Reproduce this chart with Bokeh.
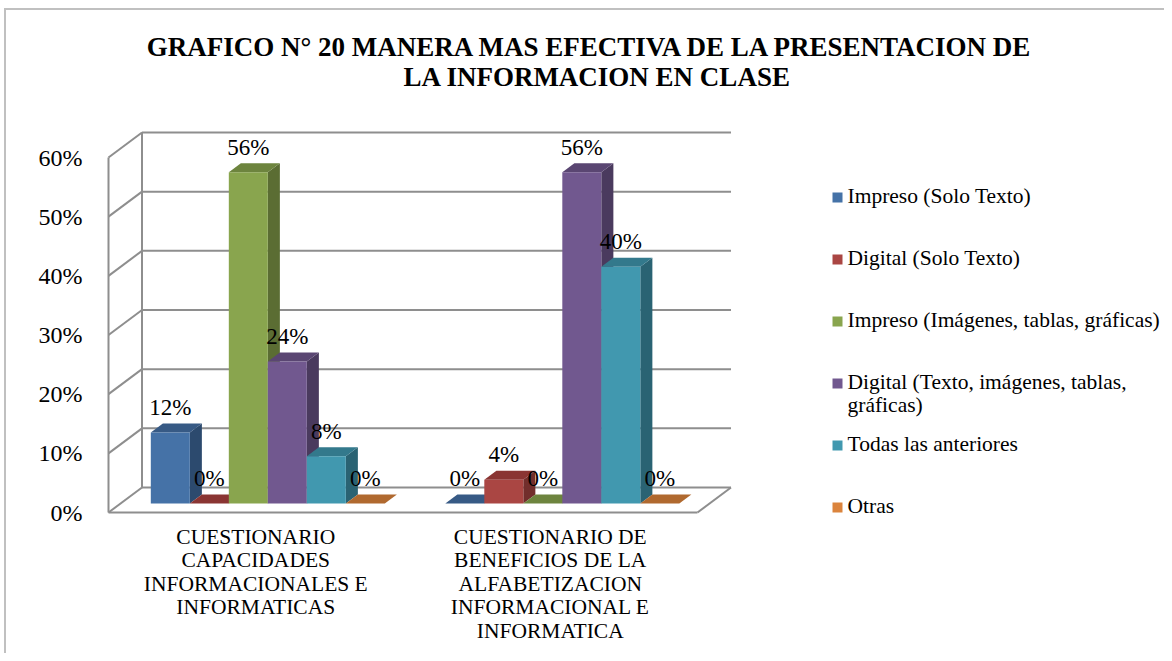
from bokeh.plotting import figure
from bokeh.models import Range1d, LinearAxis, FixedTicker
from bokeh.core.properties import value
from bokeh.embed import file_html
from bokeh.resources import INLINE

# ---------------- data ----------------
title_text = "GRAFICO N° 20  MANERA MAS EFECTIVA DE LA  PRESENTACION DE\nLA INFORMACION EN CLASE"
categories = [
    "CUESTIONARIO\nCAPACIDADES\nINFORMACIONALES E\nINFORMATICAS",
    "CUESTIONARIO DE\nBENEFICIOS DE LA\nALFABETIZACION\nINFORMACIONAL E\nINFORMATICA",
]
series_names = [
    "Impreso (Solo Texto)",
    "Digital (Solo Texto)",
    "Impreso (Imágenes, tablas, gráficas)",
    "Digital (Texto, imágenes, tablas,\ngráficas)",
    "Todas las anteriores",
    "Otras",
]
impreso_solo_texto = [12, 0]
digital_solo_texto = [0, 4]
impreso_imagenes = [56, 0]
digital_texto_imagenes = [24, 56]
todas_anteriores = [8, 40]
otras = [0, 0]
y_ticks = [0, 10, 20, 30, 40, 50, 60]
y_tick_labels = ["0%", "10%", "20%", "30%", "40%", "50%", "60%"]

series_values = [impreso_solo_texto, digital_solo_texto, impreso_imagenes,
                 digital_texto_imagenes, todas_anteriores, otras]

# ---------------- styles ----------------
front_colors = ["#4572A7", "#AA4643", "#89A54E", "#71588F", "#4198AF", "#DB843D"]
side_colors = ["#2C4A6E", "#722E2C", "#5B6D33", "#4A3A5E", "#2A6373", "#955A29"]
top_colors = ["#375A85", "#8A3533", "#6D843E", "#5A4672", "#33798C", "#B0692F"]
grid_color = "#8E8E8E"
FONT = "Liberation Serif"

OX, OY = 6, 10          # where the canvas starts on the page (margin + border)
W, H = 1160, 645
FRAME_L = 100           # page x of plot frame left edge
LEFT = FRAME_L - OX
X0PX, Y0PX = 108.0, 512.0   # page position of front-left floor corner
PXX = 294.5             # px per category unit
PXY = 355.0 / 60.0      # px per percent unit
DX = 33.5 / PXX         # depth offset (x)
DY = 25.0 / PXY         # depth offset (y)
F1, F2 = 0.36, 0.72     # bar front/back depth fractions
BW = 39.0 / PXX         # bar width


def px_x(px):
    return (px - X0PX) / PXX


def px_y(py):
    return (Y0PX - py) / PXY


ncat = len(categories)
nser = len(series_values)
ymax = max(y_ticks)

p = figure(width=W, height=H,
           x_range=Range1d(px_x(FRAME_L), px_x(OX + W)),
           y_range=Range1d(px_y(OY + H), px_y(OY)),
           output_backend="svg", toolbar_location=None,
           x_axis_type=None, y_axis_type=None,
           min_border_left=LEFT, min_border_right=0,
           min_border_top=0, min_border_bottom=0)
p.outline_line_color = None
p.background_fill_color = "white"
p.border_fill_color = "white"
p.styles = {"margin-left": "4px", "margin-top": "8px",
            "border-left": "2px solid #C0C0C0", "border-top": "2px solid #C0C0C0"}

yaxis = LinearAxis(ticker=FixedTicker(ticks=y_ticks),
                   major_label_overrides={t: l for t, l in zip(y_ticks, y_tick_labels)},
                   axis_line_color=None, major_tick_line_color=None,
                   minor_tick_line_color=None, major_tick_out=0, major_tick_in=0,
                   major_label_standoff=18,
                   major_label_text_font=FONT, major_label_text_font_size="24px",
                   major_label_text_color="black")
p.add_layout(yaxis, "left")

# ---------------- 3D frame ----------------
p.segment(x0=[DX] * len(y_ticks), y0=[t + DY for t in y_ticks],
          x1=[ncat + DX] * len(y_ticks), y1=[t + DY for t in y_ticks],
          line_color=grid_color, line_width=2)
p.segment(x0=[0] * len(y_ticks), y0=y_ticks,
          x1=[DX] * len(y_ticks), y1=[t + DY for t in y_ticks],
          line_color=grid_color, line_width=2)
p.segment(x0=[0, DX, 0, ncat], y0=[0, DY, 0, 0],
          x1=[0, DX, ncat, ncat + DX], y1=[ymax, ymax + DY, 0, DY],
          line_color=grid_color, line_width=2)

# ---------------- bars ----------------
lab_x, lab_y, lab_t = [], [], []
for s, vals in enumerate(series_values):
    fx, fy, sx, sy, tx, ty = [], [], [], [], [], []
    for i, v in enumerate(vals):
        x0 = i + 0.5 - nser * BW / 2 + s * BW
        x1 = x0 + BW
        a1x, a1y = F1 * DX, F1 * DY
        a2x, a2y = F2 * DX, F2 * DY
        fx.append([x0 + a1x, x1 + a1x, x1 + a1x, x0 + a1x])
        fy.append([a1y, a1y, v + a1y, v + a1y])
        sx.append([x1 + a1x, x1 + a2x, x1 + a2x, x1 + a1x])
        sy.append([a1y, a2y, v + a2y, v + a1y])
        tx.append([x0 + a1x, x1 + a1x, x1 + a2x, x0 + a2x])
        ty.append([v + a1y, v + a1y, v + a2y, v + a2y])
        lab_x.append(x0 + BW / 2 + a1x)
        lab_y.append(v + a2y + 16.0 / PXY)
        lab_t.append(f"{v}%")
    p.patches(xs=sx, ys=sy, fill_color=side_colors[s], line_color=None)
    p.patches(xs=tx, ys=ty, fill_color=top_colors[s], line_color=None)
    p.patches(xs=fx, ys=fy, fill_color=front_colors[s], line_color=None)

# data labels
p.text(x=lab_x, y=lab_y, text=lab_t, text_align="center", text_baseline="alphabetic",
       text_font=value(FONT), text_font_size="23px", text_color="black")

# category labels
p.text(x=[i + 0.5 for i in range(ncat)], y=[px_y(524.0)] * ncat, text=categories,
       text_align="center", text_baseline="top", text_line_height=0.98,
       text_font=value(FONT), text_font_size="21.5px", text_color="black")

# legend
leg_y = [px_y(197.0 + 62.0 * k) for k in range(nser)]
p.rect(x=[px_x(837.0)] * nser, y=leg_y, width=10, height=10,
       width_units="screen", height_units="screen",
       fill_color=front_colors, line_color=None)
p.text(x=[px_x(847.0)] * nser, y=[yy + 14.0 / PXY for yy in leg_y], text=series_names,
       text_align="left", text_baseline="top", text_line_height=0.966,
       text_font=value(FONT), text_font_size="21.5px", text_color="black")

# title
p.text(x=[px_x(597.0)], y=[px_y(31.0)], text=[title_text],
       text_align="center", text_baseline="top", text_line_height=1.0,
       text_font=value(FONT), text_font_size="27px", text_font_style="bold",
       text_color="black")

open("out.html", "w").write(file_html(p, INLINE))
